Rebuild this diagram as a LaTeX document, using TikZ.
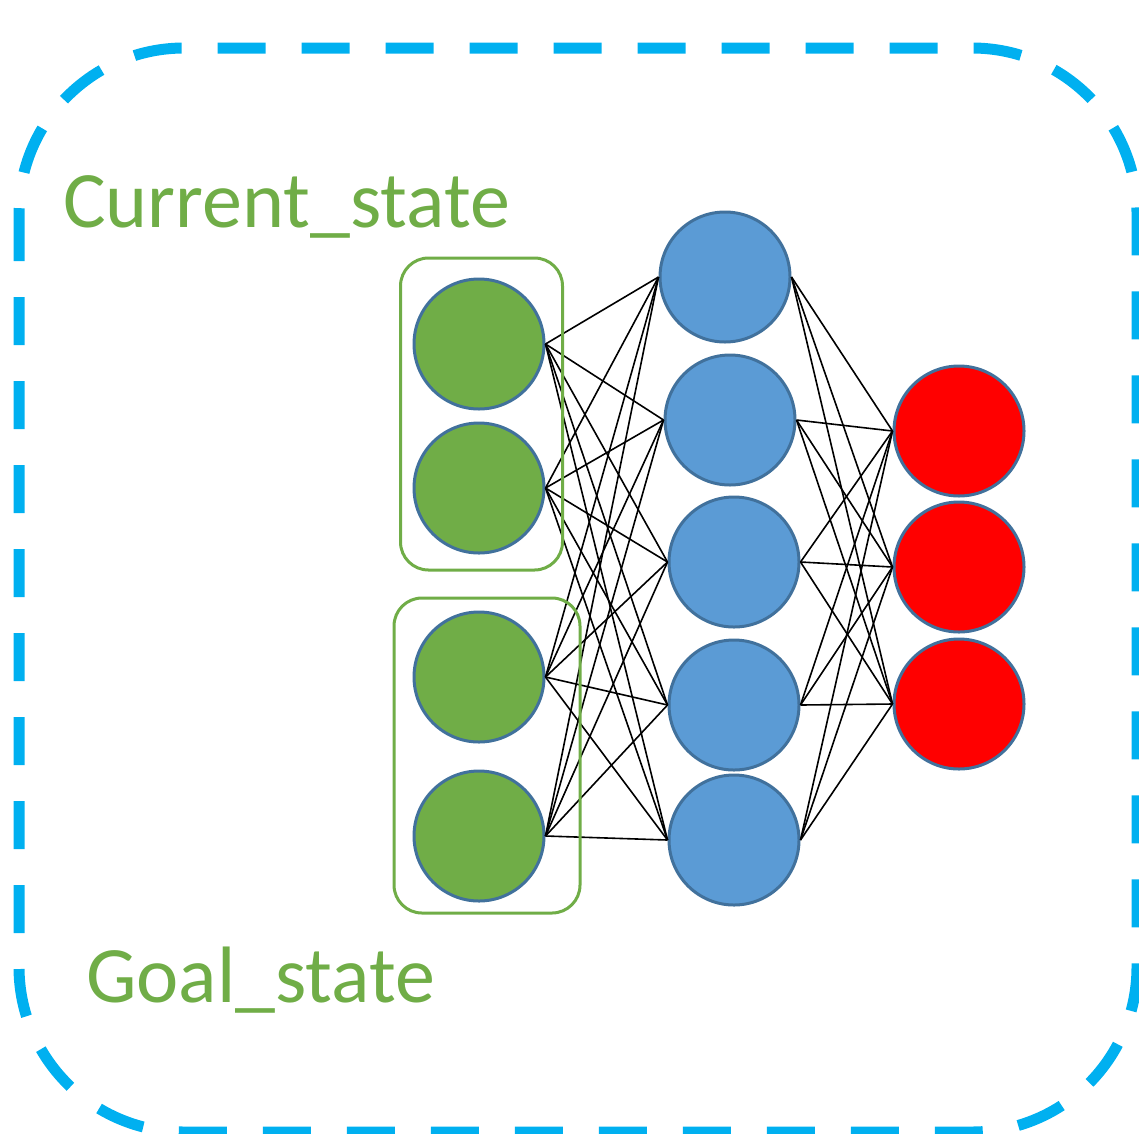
\documentclass[tikz,border=0pt]{standalone}
\usepackage{fontspec}
\setmainfont{Carlito}
\definecolor{frameblue}{HTML}{00B0F0}
\definecolor{leafgreen}{HTML}{70AD47}
\definecolor{cellblue}{HTML}{5B9BD5}
\definecolor{rimblue}{HTML}{41719C}
\definecolor{outred}{HTML}{FF0000}
\begin{document}
\begin{tikzpicture}[x=1pt,y=-1pt,
  neuron/.style={circle,draw=rimblue,line width=3pt,minimum size=130pt,inner sep=0pt},
  inneuron/.style={neuron,fill=leafgreen},
  hidneuron/.style={neuron,fill=cellblue},
  outneuron/.style={neuron,fill=outred},
  wire/.style={draw=black,line width=1.6pt},
  groupbox/.style={draw=leafgreen,line width=3pt,rounded corners=28pt,inner sep=0pt},
  label/.style={text=leafgreen,font=\fontsize{80}{96}\selectfont,anchor=base west,inner sep=0pt}]
\useasboundingbox (0,0) rectangle (1139,1133);
\draw[frameblue,line width=11pt,dash pattern=on 48pt off 36pt,rounded corners=165pt]
  (19,48) rectangle (1137,1132);
% input layer
\node[inneuron] (g1) at (479,344) {};
\node[inneuron] (g2) at (479,488) {};
\node[inneuron] (g3) at (479,677) {};
\node[inneuron] (g4) at (479,836) {};
% hidden layer
\node[hidneuron] (b1) at (725,277) {};
\node[hidneuron] (b2) at (730,420) {};
\node[hidneuron] (b3) at (734,562) {};
\node[hidneuron] (b4) at (734,705) {};
\node[hidneuron] (b5) at (734,840) {};
% output layer
\node[outneuron] (r1) at (959,431) {};
\node[outneuron] (r2) at (959,567) {};
\node[outneuron] (r3) at (959,704) {};
% connections
\foreach \i in {1,...,4}{
  \foreach \j in {1,...,5}{
    \draw[wire] (g\i.east) -- (b\j.west);
  }
}
\foreach \j in {1,...,5}{
  \foreach \k in {1,...,3}{
    \draw[wire] (b\j.east) -- (r\k.west);
  }
}
% group boxes
\node[groupbox,minimum width=162pt,minimum height=312pt] (cur) at (481.5,414) {};
\node[groupbox,minimum width=186pt,minimum height=315pt] (goal) at (487,755.5) {};
% labels
\node[label] (curlab) at (63,227) {Current\_state};
\node[label] (goallab) at (86,1002) {Goal\_state};
\end{tikzpicture}
\end{document}
